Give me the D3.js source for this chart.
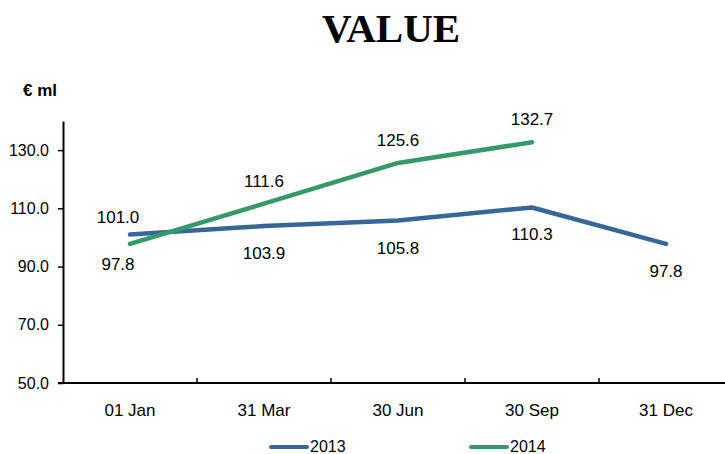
<!DOCTYPE html>
<html>
<head>
<meta charset="utf-8">
<script src="https://cdn.jsdelivr.net/npm/d3@7"></script>
<style>
  body { margin: 0; background: #fff; }
  svg { display: block; font-family: "Liberation Sans", Arial, sans-serif; }
</style>
</head>
<body>
<div class="chart"></div>
<script>
const categories = ["01 Jan", "31 Mar", "30 Jun", "30 Sep", "31 Dec"];
const values2013 = [101.0, 103.9, 105.8, 110.3, 97.8];
const values2014 = [97.8, 111.6, 125.6, 132.7];
const yTicks = [50, 70, 90, 110, 130];
const seriesNames = ["2013", "2014"];

const width = 725;
const height = 454;
const plotLeft = 63;
const plotRight = 733;
const plotTop = 121;
const plotBottom = 383;

const series = [
  { name: seriesNames[0], values: values2013, color: "#376699", above: [true, false, false, false, false], legendX: 271 },
  { name: seriesNames[1], values: values2014, color: "#35996a", above: [false, true, true, true], legendX: 471 },
];

const svg = d3
  .select(".chart")
  .append("svg")
  .attr("width", width)
  .attr("height", height);

const xScale = d3.scaleBand().domain(categories).range([plotLeft, plotRight]).padding(0);
const yScale = d3.scaleLinear().domain([50, 140]).range([plotBottom, plotTop]);
const xMid = (i) => xScale(categories[i]) + xScale.bandwidth() / 2;

// title
svg
  .append("text")
  .attr("x", 391)
  .attr("y", 42)
  .attr("text-anchor", "middle")
  .attr("font-family", "'Liberation Serif', 'Times New Roman', serif")
  .attr("font-weight", "bold")
  .attr("font-size", 41)
  .text("VALUE");

svg
  .append("text")
  .attr("x", 23)
  .attr("y", 96)
  .attr("font-weight", "bold")
  .attr("font-size", 17)
  .text("€ ml");

// y axis
const yAxis = svg
  .append("g")
  .attr("transform", `translate(${plotLeft},0)`)
  .call(d3.axisLeft(yScale).tickValues(yTicks).tickFormat(d3.format(".1f")).tickSize(5).tickSizeOuter(0));
yAxis.select(".domain").attr("stroke", "#000").attr("stroke-width", 2);
yAxis.selectAll(".tick line").attr("stroke-width", 1.5);
yAxis
  .selectAll(".tick text")
  .attr("x", -14)
  .attr("font-size", 16)
  .attr("font-family", "'Liberation Sans', Arial, sans-serif")
  .attr("fill", "#000");

// x axis, ticks between categories
const xAxis = svg.append("g").attr("transform", `translate(0,${plotBottom})`);
xAxis
  .append("line")
  .attr("x1", plotLeft - 5)
  .attr("x2", plotRight)
  .attr("stroke", "#000")
  .attr("stroke-width", 2);
xAxis
  .selectAll(".xtick")
  .data(categories.slice(1))
  .enter()
  .append("line")
  .attr("x1", (d) => xScale(d))
  .attr("x2", (d) => xScale(d))
  .attr("y1", 0)
  .attr("y2", -5)
  .attr("stroke", "#000")
  .attr("stroke-width", 1.5);
xAxis
  .selectAll(".xlabel")
  .data(categories)
  .enter()
  .append("text")
  .attr("x", (d, i) => xMid(i))
  .attr("y", 33)
  .attr("text-anchor", "middle")
  .attr("font-size", 17)
  .text((d) => d);

// lines
const line = d3
  .line()
  .x((d, i) => xMid(i))
  .y((d) => yScale(d));

series.forEach((s) => {
  svg
    .append("path")
    .datum(s.values)
    .attr("d", line)
    .attr("fill", "none")
    .attr("stroke", s.color)
    .attr("stroke-width", 4.5)
    .attr("stroke-linejoin", "round")
    .attr("stroke-linecap", "round");
});

// data labels
series.forEach((s, si) => {
  svg
    .append("g")
    .selectAll("text")
    .data(s.values)
    .enter()
    .append("text")
    .attr("x", (d, i) => xMid(i) - (i == 0 ? 12 : 0))
    .attr("y", (d, i) => {
      if (s.above[i]) return yScale(d) - (i == 0 ? 12 : 17);
      return yScale(d) + (i == 0 && si == 1 ? 26 : 33);
    })
    .attr("text-anchor", "middle")
    .attr("font-size", 17)
    .text((d) => d.toFixed(1));
});

// legend
series.forEach((s) => {
  svg
    .append("line")
    .attr("x1", s.legendX)
    .attr("x2", s.legendX + 36)
    .attr("y1", 447)
    .attr("y2", 447)
    .attr("stroke", s.color)
    .attr("stroke-width", 4)
    .attr("stroke-linecap", "round");
  svg
    .append("text")
    .attr("x", s.legendX + 39)
    .attr("y", 452)
    .attr("font-size", 16)
    .text(s.name);
});
</script>
</body>
</html>
